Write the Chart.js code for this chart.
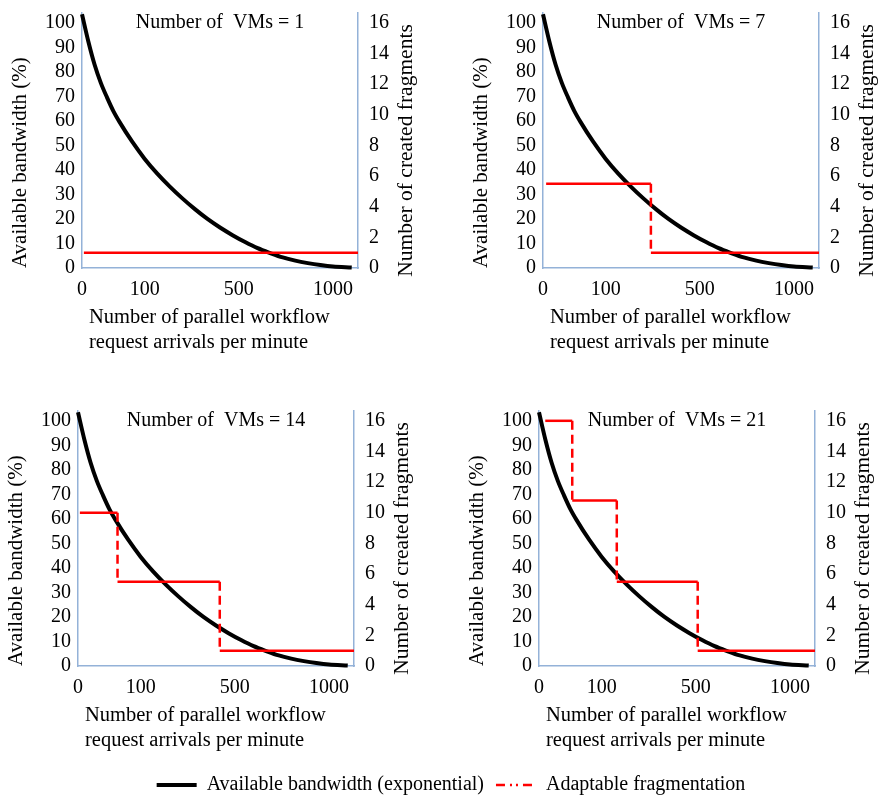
<!DOCTYPE html>
<html>
<head>
<meta charset="utf-8">
<script src="https://cdn.jsdelivr.net/npm/chart.js@4.4.1/dist/chart.umd.min.js"></script>
<style>
  html, body { margin: 0; background: #fff; overflow: hidden; }
  #wrap { position: relative; width: 880px; height: 795px; overflow: hidden; }
  #wrap canvas { position: absolute; }
</style>
</head>
<body>
<div id="wrap"></div>
<script>
// arrival-rate axis, laid out in evenly spaced slots
const xTickSlots = [0, 10, 25, 40];
const xTickLabels = ['0', '100', '500', '1000'];

// available bandwidth (%) along the slots
const curveSlots = [0, 1, 2, 3, 4, 5, 6, 8, 10, 12, 14, 16, 18, 20, 22, 24, 26, 28, 30, 32, 34, 36, 38, 40, 43];
const bandwidth = [103.5, 92.5, 83, 75.5, 69.5, 64, 59.5, 51.5, 44.5, 38.5, 33.2, 28.4, 24, 20, 16.5, 13.4, 10.6, 8.1, 6.1, 4.3, 3, 2, 1.2, 0.6, 0.2];

// created fragments, one step profile per VM count
const vmCounts = [1, 7, 14, 21];
const fragStart = [0.3, 0.5, 0.3, 1];
const fragBreaks = [[], [17.2], [6.3, 22.6], [5.3, 12.4, 25.3]];
const fragLevels = [[1], [5.5, 1], [10, 5.5, 1], [16, 10.8, 5.5, 1]];

const X_MAX = 44;
const serif = "'Liberation Serif', 'Times New Roman', serif";
const spine = '#94B2D8';
const dropDash = [9, 5];

// where each panel canvas sits on the page
const panelBoxes = [
  { left: 0, top: 1 },
  { left: 461, top: 1 },
  { left: -4, top: 399 },
  { left: 457, top: 399 },
];

Chart.defaults.font.family = serif;
Chart.defaults.color = '#000';

function stepPoints(k) {
  const lv = fragLevels[k];
  const pts = [{ x: fragStart[k], y: lv[0] }];
  fragBreaks[k].forEach((b, i) => {
    pts.push({ x: b, y: lv[i] });
    pts.push({ x: b, y: lv[i + 1] });
  });
  pts.push({ x: X_MAX, y: lv[lv.length - 1] });
  return pts;
}

// keep tick labels from adding extra room around the plot
function noLabelPadding(s) {
  s.paddingTop = 0;
  s.paddingBottom = 0;
  s.paddingLeft = 0;
  s.paddingRight = 0;
}

// panel caption, x-axis caption and the right-hand axis caption
const panelText = {
  id: 'panelText',
  afterDraw(chart, args, opts) {
    const { ctx, chartArea: a } = chart;
    ctx.save();
    ctx.fillStyle = '#000';
    ctx.textBaseline = 'middle';

    ctx.font = '20px ' + serif;
    ctx.textAlign = 'center';
    ctx.fillText(opts.title, (a.left + a.right) / 2, a.top + 10);

    ctx.font = '20.5px ' + serif;
    ctx.textAlign = 'left';
    opts.xTitle.forEach((line, i) => ctx.fillText(line, a.left + 7, a.bottom + 50 + i * 25));

    ctx.translate(a.right + 48, (a.top + a.bottom) / 2 + 10);
    ctx.rotate(-Math.PI / 2);
    ctx.font = '21.5px ' + serif;
    ctx.textAlign = 'center';
    ctx.fillText(opts.y1Title, 0, 0);
    ctx.restore();
  }
};

const wrap = document.getElementById('wrap');

vmCounts.forEach((vms, k) => {
  const cv = document.createElement('canvas');
  cv.width = 418;
  cv.height = 360;
  cv.style.left = panelBoxes[k].left + 'px';
  cv.style.top = panelBoxes[k].top + 'px';
  wrap.appendChild(cv);

  new Chart(cv, {
    type: 'line',
    data: {
      datasets: [
        {
          label: 'Available bandwidth (exponential)',
          data: curveSlots.map((s, i) => ({ x: s, y: bandwidth[i] })),
          yAxisID: 'y',
          borderColor: '#000',
          borderWidth: 4,
          pointRadius: 0,
          cubicInterpolationMode: 'monotone',
          clip: 4,
          order: 1,
        },
        {
          label: 'Adaptable fragmentation',
          data: stepPoints(k),
          yAxisID: 'y1',
          borderColor: '#FF0000',
          borderWidth: 2.5,
          borderDash: dropDash,
          pointRadius: 0,
          tension: 0,
          order: 0,
          // solid plateaus, dashed drops between them
          segment: {
            borderDash: c => (c.p0.parsed.x === c.p1.parsed.x ? dropDash : []),
          },
        },
      ],
    },
    options: {
      responsive: false,
      animation: false,
      devicePixelRatio: 1,
      layout: { padding: { top: 12, bottom: 5, left: 0, right: 0 } },
      plugins: {
        legend: { display: false },
        tooltip: { enabled: false },
        panelText: {
          title: 'Number of  VMs = ' + vms,
          xTitle: ['Number of parallel workflow', 'request arrivals per minute'],
          y1Title: 'Number of created fragments',
        },
      },
      scales: {
        x: {
          type: 'linear',
          min: 0,
          max: X_MAX,
          grid: { display: false, drawTicks: false },
          border: { color: spine, width: 1.5 },
          afterBuildTicks: s => { s.ticks = xTickSlots.map(v => ({ value: v })); },
          afterFit: s => { s.height = 88; noLabelPadding(s); },
          ticks: {
            autoSkip: false,
            maxRotation: 0,
            padding: 10,
            font: { size: 20 },
            callback: (v, i) => xTickLabels[i],
          },
        },
        y: {
          position: 'left',
          min: 0,
          max: 104,
          grid: { display: false, drawTicks: false },
          border: { color: spine, width: 1.5 },
          afterFit: s => { s.width = 82; noLabelPadding(s); },
          ticks: { stepSize: 10, autoSkip: false, includeBounds: false, padding: 7, font: { size: 20 } },
          title: {
            display: true,
            text: 'Available bandwidth (%)',
            align: 'start',
            padding: { top: 8, bottom: 0 },
            font: { size: 21 },
          },
        },
        y1: {
          position: 'right',
          min: 0,
          max: 16.64,
          grid: { display: false, drawTicks: false },
          border: { color: spine, width: 1.5 },
          afterFit: s => { s.width = 60; noLabelPadding(s); },
          ticks: { stepSize: 2, autoSkip: false, includeBounds: false, padding: 11, font: { size: 20 } },
        },
      },
    },
    plugins: [panelText],
  });
});

// shared legend along the bottom
const lg = document.createElement('canvas');
lg.width = 858;
lg.height = 120;
lg.style.left = '22px';
lg.style.top = '763px';
wrap.appendChild(lg);

new Chart(lg, {
  type: 'line',
  data: {
    datasets: [
      { label: 'Available bandwidth (exponential)', data: [], borderColor: '#000', borderWidth: 4 },
      { label: 'Adaptable fragmentation', data: [], borderColor: '#FF0000', borderWidth: 2.5, borderDash: [9, 5, 2, 4, 2, 5] },
    ],
  },
  options: {
    responsive: false,
    animation: false,
    devicePixelRatio: 1,
    layout: { padding: 0 },
    scales: { x: { display: false }, y: { display: false } },
    plugins: {
      tooltip: { enabled: false },
      legend: {
        display: true,
        position: 'top',
        labels: {
          usePointStyle: true,
          pointStyleWidth: 40,
          padding: 12,
          font: { size: 20 },
          color: '#000',
          generateLabels: chart => chart.data.datasets.map((ds, i) => ({
            text: ds.label,
            strokeStyle: ds.borderColor,
            fillStyle: ds.borderColor,
            lineWidth: ds.borderWidth,
            lineDash: ds.borderDash || [],
            pointStyle: 'line',
            hidden: false,
            datasetIndex: i,
            fontColor: '#000',
          })),
        },
      },
    },
  },
});
</script>
</body>
</html>
